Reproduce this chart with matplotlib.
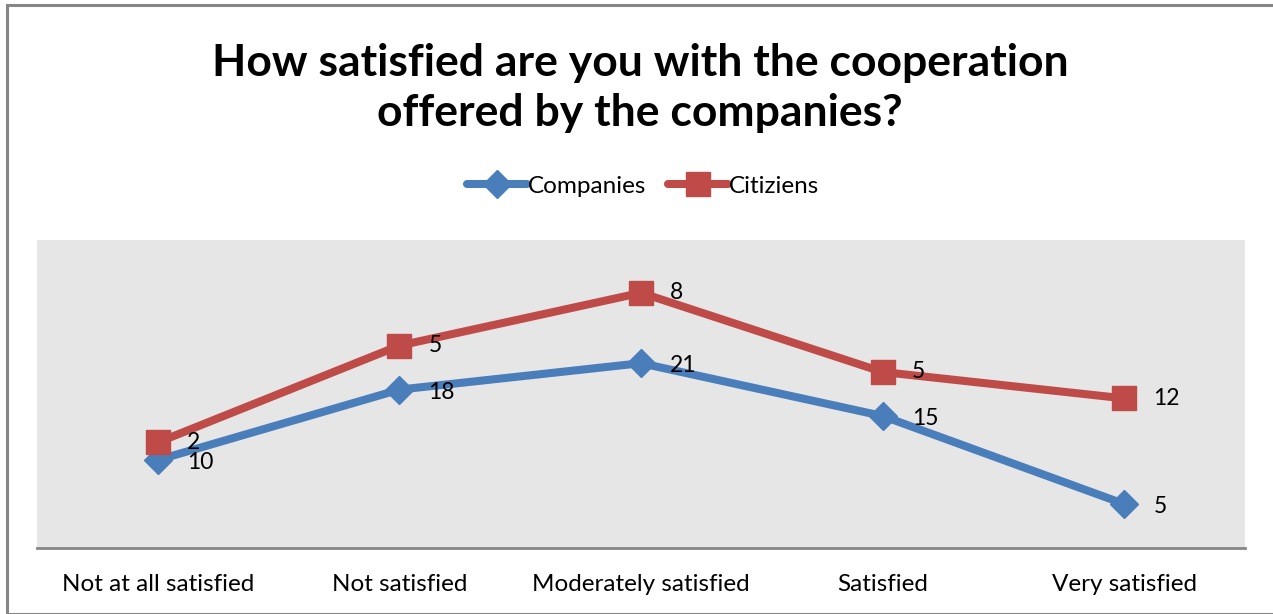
import matplotlib
matplotlib.use("Agg")
import matplotlib.pyplot as plt
from matplotlib.patches import Rectangle
import numpy as np

categories = ["Not at all satisfied", "Not satisfied", "Moderately satisfied", "Satisfied", "Very satisfied"]
companies = [10, 18, 21, 15, 5]
citizens = [2, 5, 8, 5, 12]

plt.rcParams['font.family'] = ['Lato', 'DejaVu Sans']

W, H = 1273, 614
fig = plt.figure(figsize=(W / 100, H / 100), dpi=100)

# chart frame
fig.patches.append(Rectangle((7 / W, 0), 1.2, 1 - 5 / H, transform=fig.transFigure,
                             fill=False, edgecolor="#868686", linewidth=2.2, zorder=0))

ax = fig.add_axes([37 / W, (H - 548) / H, (1245 - 37) / W, 308 / H])
ax.set_facecolor("#e6e6e6")

x = np.arange(len(categories))
comp = np.array(companies)
cit_stack = comp + np.array(citizens)

blue = "#4a7ebb"
red = "#be4b48"

ax.plot(x, comp, color=blue, lw=5.8, marker="D", markersize=14, label="Companies",
        solid_capstyle="round", zorder=3)
ax.plot(x, cit_stack, color=red, lw=5.8, marker="s", markersize=17, label="Citiziens",
        solid_capstyle="round", zorder=4)

for xi, yv, lab in zip(x, comp, companies):
    ax.annotate(str(lab), (xi, yv), xytext=(21, -2), textcoords="offset points",
                ha="left", va="center", fontsize=16.5, color="black", zorder=5)
for xi, yv, lab in zip(x, cit_stack, citizens):
    ax.annotate(str(lab), (xi, yv), xytext=(21, 0), textcoords="offset points",
                ha="left", va="center", fontsize=16.5, color="black", zorder=5)

ax.set_xlim(-0.5, 4.5)
ax.set_ylim(0, 35)
ax.set_yticks([])
ax.set_xticks(x)
ax.set_xticklabels(categories, fontsize=17.5)
ax.tick_params(axis="x", length=0, pad=19)
for s in ["top", "right", "left"]:
    ax.spines[s].set_visible(False)
ax.spines["bottom"].set_color("#868686")
ax.spines["bottom"].set_linewidth(2)

fig.text(640 / W, 1 - 88 / H, "How satisfied are you with the cooperation\noffered by the companies?",
         ha="center", va="center", fontsize=32, fontweight="bold", linespacing=1.32)

fig.legend(loc="center", bbox_to_anchor=(643 / W, 1 - 186 / H), ncol=2, frameon=False,
           fontsize=17.5, handlelength=2.45, handletextpad=0.05, columnspacing=0.9)

fig.savefig("out.png", dpi=100)
